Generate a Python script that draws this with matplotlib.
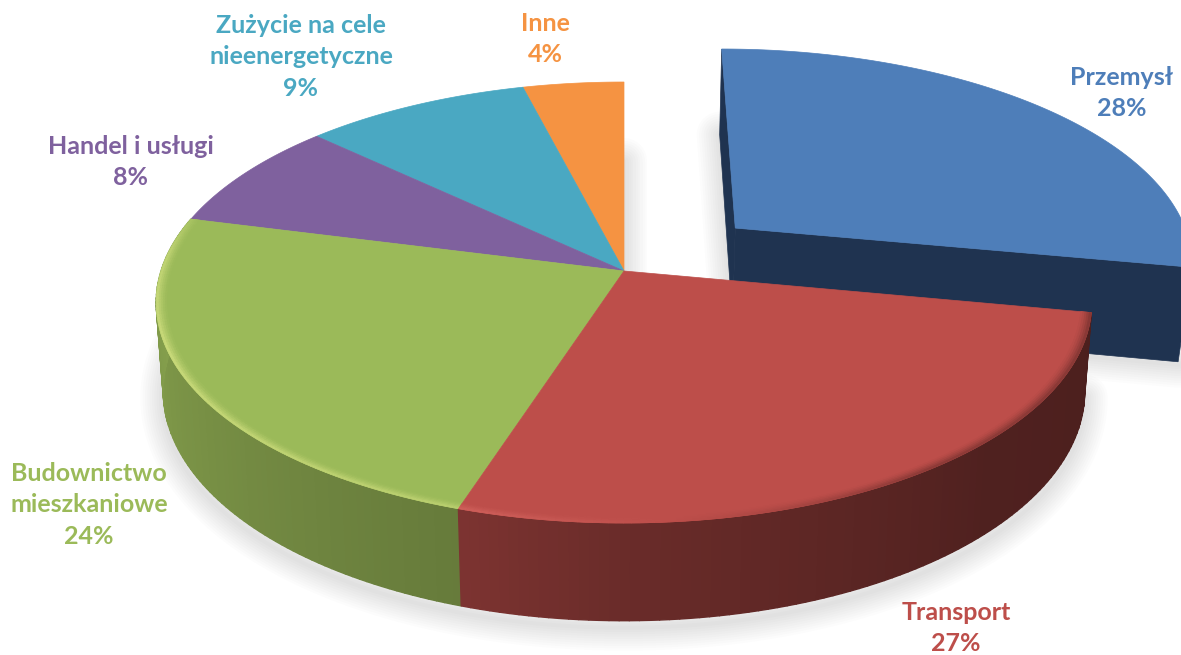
import numpy as np
import matplotlib
matplotlib.use('Agg')
import matplotlib.pyplot as plt
from matplotlib.collections import PolyCollection
from matplotlib.patches import Polygon

# ── data ─────────────────────────────────────────────────────────────────────
# counter-clockwise from the top, the exploded slice comes last
LABELS = ['Inne', 'Zużycie na cele\nnieenergetyczne', 'Handel i usługi',
          'Budownictwo\nmieszkaniowe', 'Transport', 'Przemysł']
SHARES = [4, 9, 8, 24, 27, 28]
COLORS = ['#F59342', '#4AA8C2', '#7F619E', '#9BBA59', '#BD4E4A', '#4E7EB9']
EXPLODE = [0, 0, 0, 0, 0, 0.321]

# label centres in pixels
LABEL_X = [545, 301, 131, 89, 956, 1122]
LABEL_Y = [39, 57, 162, 505, 628, 93]

# ── camera ───────────────────────────────────────────────────────────────────
CX, CY = 624, 271
A, B, K = 463, 216, 1 / 7
FONT = 'Lato'

# wall brightness against the angle (deg, negative = counter-clockwise)
SHADE_ANG = [-262, -225, -180, -162, -120, -90, -60]
SHADE_VAL = [0.40, 0.42, 0.56, 0.66, 0.78, 0.85, 0.85]
WALL_BLUE = '#1F3350'


def project(x, y, bottom=False, c=89, e=0.015):
    """Unit disc coordinates to pixels; bottom=True is the lower face."""
    x, y = np.asarray(x, float), np.asarray(y, float)
    w = 1 + K * y + (e if bottom else 0)
    return CX + A * x / w, CY + (-B * y + (c if bottom else 0)) / w


def rgb(c):
    return np.array(matplotlib.colors.to_rgb(c))


def rim(t, dx=0, dy=0, r=1.0):
    return r * np.sin(t) + dx, r * np.cos(t) + dy


def wall_quads(ax, t, col, dx=0, dy=0, **kw):
    polys, fc = [], []
    for t0, t1 in zip(t[:-1], t[1:]):
        xs, ys = rim(np.array([t0, t1]), dx, dy)
        px0, py0 = project(xs, ys)
        px1, py1 = project(xs, ys, bottom=True, **kw)
        polys.append(np.c_[np.r_[px0, px1[::-1]], np.r_[py0, py1[::-1]]])
        f = np.interp(np.degrees((t0 + t1) / 2), SHADE_ANG, SHADE_VAL)
        fc.append(np.clip(rgb(col) * f, 0, 1))
    ax.add_collection(PolyCollection(polys, facecolors=fc, edgecolors=fc, linewidths=1.0))


def rim_band(ax, t, col):
    """Soft bevel along the front rim of a top face."""
    base = rgb(col)
    bright = np.clip(base * 1.8, 0, 1)
    radii = np.linspace(0.978, 1.0, 6)
    polys, fc = [], []
    for t0, t1 in zip(t[:-1], t[1:]):
        deg = np.degrees((t0 + t1) / 2)
        light = np.interp(deg, [-262, -215, -185, -160, -110, -85, -70],
                          [-0.28, -0.25, 0.0, 0.3, 0.45, 0.35, 0.0])
        for j, (r0, r1) in enumerate(zip(radii[:-1], radii[1:])):
            s = (j + 1) / (len(radii) - 1)
            px0, py0 = project(*rim(np.array([t0, t1]), r=r0))
            px1, py1 = project(*rim(np.array([t0, t1]), r=r1))
            polys.append(np.c_[np.r_[px0, px1[::-1]], np.r_[py0, py1[::-1]]])
            target = bright if light > 0 else np.zeros(3)
            fc.append(base + (target - base) * abs(light) * s ** 1.5)
    ax.add_collection(PolyCollection(polys, facecolors=fc, edgecolors=fc, linewidths=0.5))


def soft_shadow(ax, xs, ys, dy=0):
    for lw in np.linspace(4, 46, 10):
        ax.plot(xs, np.asarray(ys) + dy, color='black', alpha=0.012, lw=lw * 0.72,
                solid_joinstyle='round', solid_capstyle='round', zorder=0.5)


fig = plt.figure(figsize=(11.81, 6.55), dpi=100, facecolor='white')
ax = fig.add_axes([0, 0, 1, 1])
ax.set_xlim(0, 1181)
ax.set_ylim(655, 0)
ax.axis('off')

# slice limits: angle grows clockwise from the top, so the cumulative share runs negative
edges = -np.cumsum([0] + SHARES) / sum(SHARES) * 2 * np.pi
slices = list(zip(SHARES, COLORS, EXPLODE, edges[:-1], edges[1:]))

# ── shadows under the front of the disc ──────────────────────────────────────
t_front = np.radians(np.linspace(-262, -62, 160))
bx, by = project(*rim(t_front), bottom=True)
soft_shadow(ax, bx, by, dy=7)
# the back edge of the first slice throws a faint one into the gap
gx, gy = project([0, 0], [1, 0], bottom=True)
soft_shadow(ax, gx, gy)

# ── exploded slice first, it sits behind the others ──────────────────────────
for share, col, exp, t1, t0 in slices:
    if not exp:
        continue
    mid = (t0 + t1) / 2 + 2 * np.pi
    dx, dy = exp * np.sin(mid), exp * np.cos(mid)
    t = np.linspace(t0, t1, 120)
    xs, ys = rim(t, dx, dy)
    fx = np.r_[dx, xs]
    fy = np.r_[dy, ys]
    low = dict(c=97, e=0.025)
    # radial walls, both sides
    wx = [fx[0], fx[-1], fx[-1], fx[0]]
    wy = [fy[0], fy[-1], fy[-1], fy[0]]
    px0, py0 = project(wx[:2], wy[:2])
    px1, py1 = project(wx[2:], wy[2:], bottom=True, **low)
    right = np.c_[np.r_[px0, px1], np.r_[py0, py1]]
    wx = [fx[0], fx[1], fx[1], fx[0]]
    wy = [fy[0], fy[1], fy[1], fy[0]]
    px0, py0 = project(wx[:2], wy[:2])
    px1, py1 = project(wx[2:], wy[2:], bottom=True, **low)
    left = np.c_[np.r_[px0, px1], np.r_[py0, py1]]
    soft_shadow(ax, left[2:, 0], left[2:, 1])
    soft_shadow(ax, right[2:, 0], right[2:, 1], dy=3)
    ax.add_patch(Polygon(left, closed=True, fc=WALL_BLUE, ec=WALL_BLUE, lw=0.5))
    ax.add_patch(Polygon(right, closed=True, fc=WALL_BLUE, ec=WALL_BLUE, lw=0.5))
    px, py = project(fx, fy)
    ax.add_patch(Polygon(np.c_[px, py], closed=True, fc=col, ec=col, lw=0.5))

# ── outer walls of the front slices ──────────────────────────────────────────
for share, col, exp, t1, t0 in slices:
    if exp or t0 > -np.pi / 2:
        continue
    wall_quads(ax, np.linspace(t0, t1, 90), col)

# ── top faces ────────────────────────────────────────────────────────────────
for share, col, exp, t1, t0 in slices:
    if exp:
        continue
    xs, ys = rim(np.linspace(t0, t1, 120))
    px, py = project(np.r_[0, xs], np.r_[0, ys])
    ax.add_patch(Polygon(np.c_[px, py], closed=True, fc=col, ec=col, lw=0.5))
for share, col, exp, t1, t0 in slices:
    if exp or t0 > -np.pi / 2:
        continue
    rim_band(ax, np.linspace(t0, t1, 120), col)

# ── labels ───────────────────────────────────────────────────────────────────
for name, share, col, lx, ly in zip(LABELS, SHARES, COLORS, LABEL_X, LABEL_Y):
    ax.text(lx, ly, f'{name}\n{share}%', color=col, ha='center', va='center',
            fontsize=18, fontweight='bold', family=FONT, linespacing=1.47)

fig.savefig('out.png', dpi=100, facecolor='white')
